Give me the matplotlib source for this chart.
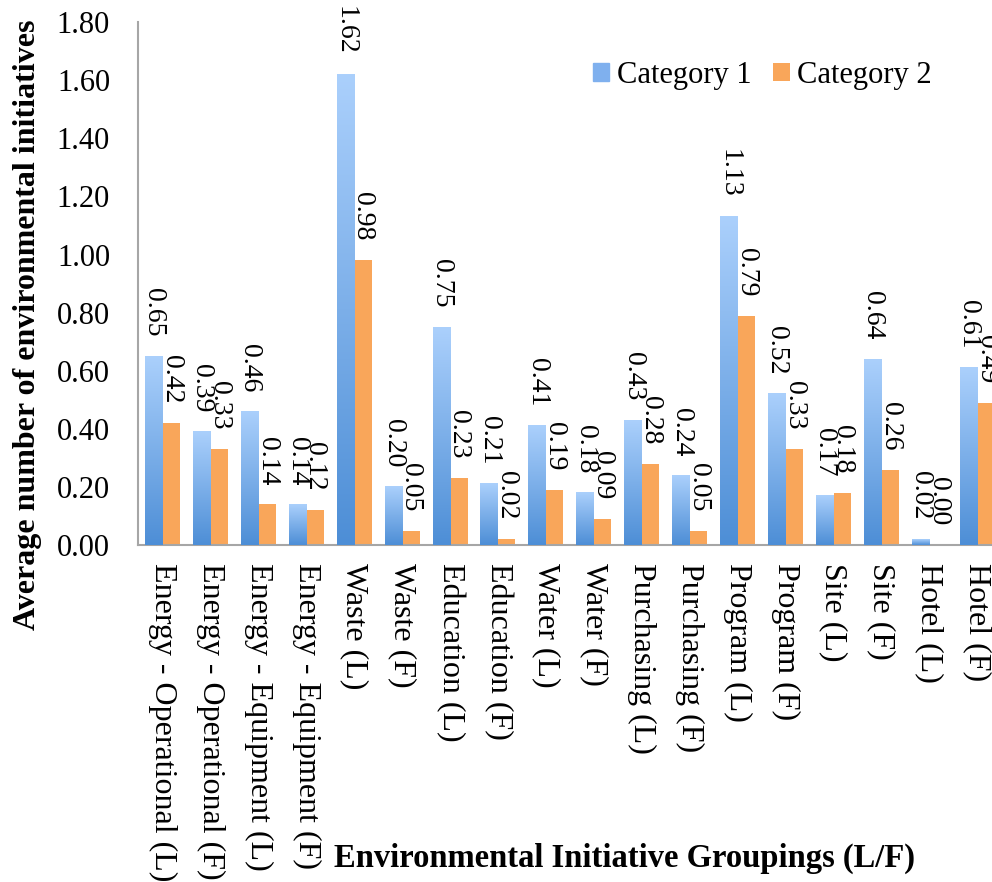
import numpy as np
import matplotlib.pyplot as plt
from matplotlib.colors import LinearSegmentedColormap

# Data
groups = ['Energy - Operational (L)', 'Energy - Operational (F)',
          'Energy - Equipment (L)', 'Energy - Equipment (F)',
          'Waste (L)', 'Waste (F)', 'Education (L)', 'Education (F)',
          'Water (L)', 'Water (F)', 'Purchasing (L)', 'Purchasing (F)',
          'Program (L)', 'Program (F)', 'Site (L)', 'Site (F)',
          'Hotel (L)', 'Hotel (F)']
cat1 = [0.65, 0.39, 0.46, 0.14, 1.62, 0.20, 0.75, 0.21, 0.41,
        0.18, 0.43, 0.24, 1.13, 0.52, 0.17, 0.64, 0.02, 0.61]
cat2 = [0.42, 0.33, 0.14, 0.12, 0.98, 0.05, 0.23, 0.02, 0.19,
        0.09, 0.28, 0.05, 0.79, 0.33, 0.18, 0.26, 0.00, 0.49]
series_names = ['Category 1', 'Category 2']

plt.rcParams['font.family'] = ['Liberation Serif', 'DejaVu Serif']

blue_top = '#abd0fc'
blue_bot = '#4d8ed6'
orange = '#f9a65a'
grad = LinearSegmentedColormap.from_list('bluegrad', [blue_bot, blue_top])

fig = plt.figure(figsize=(9.92, 8.82), dpi=100)
ax = fig.add_axes([0.139, 0.382, 0.871, 0.593])

x = np.arange(len(groups))
w = 0.365

b1 = ax.bar(x - w / 2, cat1, w, color=blue_bot, label=series_names[0], zorder=2)
b2 = ax.bar(x + w / 2, cat2, w, color=orange, label=series_names[1], zorder=2)

# vertical gradient on the blue bars
gimg = np.linspace(1, 0, 256).reshape(-1, 1)
for r in b1:
    x0, y0 = r.get_x(), r.get_y()
    ax.imshow(gimg, cmap=grad, aspect='auto', zorder=3,
              extent=[x0, x0 + r.get_width(), y0, y0 + r.get_height()])

# value labels, rotated like the original
for bars, vals in ((b1, cat1), (b2, cat2)):
    for r, v in zip(bars, vals):
        ax.annotate(f'{v:.2f}', (r.get_x() + r.get_width() / 2, r.get_height()),
                    xytext=(0, 14), textcoords='offset points',
                    rotation=-90, ha='center', va='bottom', fontsize=20, zorder=5)

ax.set_xlim(-0.511, len(groups) - 0.489)
ax.set_ylim(0, 1.80)
ax.set_yticks(np.arange(0, 1.81, 0.2))
ax.set_yticklabels([f'{t:.2f}' for t in np.arange(0, 1.81, 0.2)])
ax.set_xticks(x)
ax.set_xticklabels(groups, rotation=-90, va='top', ha='center')
ax.tick_params(axis='y', length=0, pad=20, labelsize=22)
ax.tick_params(axis='x', length=0, pad=13, labelsize=23)

for s in ('top', 'right'):
    ax.spines[s].set_visible(False)
for s in ('left', 'bottom'):
    ax.spines[s].set_color('#a6a6a6')
    ax.spines[s].set_linewidth(1.5)

leg = ax.legend(loc='upper left', bbox_to_anchor=(0.585, 0.945),
                bbox_transform=fig.transFigure, frameon=False, ncol=2,
                fontsize=22, handlelength=0.55, handleheight=0.55,
                handletextpad=0.25, columnspacing=0.7, borderaxespad=0)
leg.legend_handles[0].set_color('#7fb0ee')

fig.text(0.028, 0.632, 'Average number of environmental initiatives',
         rotation=90, ha='center', va='center', fontsize=23, fontweight='bold')
fig.text(0.63, 0.027, 'Environmental Initiative Groupings (L/F)',
         ha='center', va='center', fontsize=23.5, fontweight='bold')

fig.savefig('out.png', dpi=100)
